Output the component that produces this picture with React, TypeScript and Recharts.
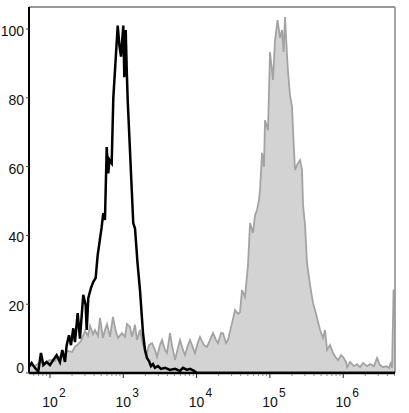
import React from "react";
import { ComposedChart, Area, Line, XAxis, YAxis, ReferenceLine } from "recharts";

// x values are log10(fluorescence intensity)
const blackX = [1.714, 1.75, 1.795, 1.84, 1.877, 1.909, 1.955, 2.0, 2.045, 2.091, 2.136, 2.168, 2.205, 2.228, 2.259, 2.286, 2.318, 2.341, 2.378, 2.409, 2.454, 2.487, 2.501, 2.523, 2.559, 2.591, 2.623, 2.651, 2.705, 2.727, 2.75, 2.774, 2.795, 2.812, 2.842, 2.864, 2.924, 2.948, 2.969, 3.0, 3.014, 3.033, 3.046, 3.06, 3.136, 3.16, 3.194, 3.228, 3.269, 3.296, 3.323, 3.351, 3.378, 3.405, 3.432, 3.473, 3.514, 3.569, 3.637, 3.705, 3.774, 3.814, 3.869, 3.91, 3.965, 4.005, 6.706];
const blackY = [1.8, 2.9, 1.5, 0.4, 5.8, 2.3, 3.2, 2.3, 3.8, 5.2, 3.2, 6.7, 3.2, 8.1, 11, 8.1, 13, 9, 17.4, 10, 22.7, 19.8, 12.5, 21.8, 24.7, 26.5, 27.6, 34.3, 42.4, 46.5, 44.5, 65.7, 58, 62, 61, 80, 101, 95, 92, 101, 86, 99.7, 89, 79.4, 43.6, 42, 32, 24, 11.6, 6.7, 4.4, 3.5, 2, 2.6, 1.5, 2, 1.2, 1.5, 0.9, 1.2, 0.6, 1.5, 0.9, 1.2, 0.6, 0, 0];

const grayX = [1.714, 1.795, 1.864, 1.932, 2.0, 2.068, 2.109, 2.177, 2.246, 2.3, 2.341, 2.382, 2.423, 2.477, 2.518, 2.546, 2.587, 2.614, 2.655, 2.682, 2.723, 2.75, 2.778, 2.819, 2.859, 2.9, 2.928, 2.982, 3.023, 3.05, 3.091, 3.119, 3.16, 3.187, 3.228, 3.269, 3.323, 3.351, 3.392, 3.432, 3.46, 3.501, 3.528, 3.569, 3.596, 3.637, 3.664, 3.705, 3.746, 3.774, 3.814, 3.842, 3.883, 3.91, 3.951, 3.978, 4.019, 4.046, 4.101, 4.142, 4.183, 4.224, 4.265, 4.292, 4.333, 4.36, 4.401, 4.428, 4.483, 4.524, 4.565, 4.592, 4.619, 4.66, 4.701, 4.729, 4.769, 4.797, 4.824, 4.851, 4.865, 4.892, 4.919, 4.933, 4.974, 5.001, 5.042, 5.07, 5.104, 5.138, 5.165, 5.186, 5.206, 5.233, 5.247, 5.274, 5.302, 5.315, 5.342, 5.37, 5.411, 5.438, 5.452, 5.479, 5.506, 5.547, 5.588, 5.615, 5.656, 5.684, 5.724, 5.752, 5.779, 5.82, 5.861, 5.902, 5.929, 5.97, 5.997, 6.038, 6.052, 6.093, 6.147, 6.188, 6.229, 6.27, 6.325, 6.366, 6.42, 6.461, 6.502, 6.543, 6.584, 6.625, 6.652, 6.666, 6.686, 6.706];
const grayY = [2.3, 2.0, 3.2, 2.9, 3.8, 3.5, 4.7, 4.9, 6.4, 6.1, 7.6, 8.4, 9.3, 12.2, 10.8, 13.7, 11.3, 12.5, 10.8, 16, 10.2, 12.5, 14.2, 10.5, 16.3, 11.9, 10.2, 11.6, 10.5, 14.2, 13.4, 10.5, 14, 9.6, 12.5, 8.1, 5.8, 8.1, 8.7, 6.7, 4.7, 8.1, 9.6, 6.7, 5.8, 11.6, 8.1, 3.8, 7.3, 9.6, 6.7, 5.2, 8.1, 9.6, 7.3, 5.8, 9, 10.5, 8.1, 7.6, 9.6, 11.6, 9.6, 8.7, 11.6, 11.6, 8.7, 9.6, 14.5, 18.3, 17.2, 17.7, 24.1, 22.1, 31.4, 43.6, 40.7, 45.9, 47.4, 50.3, 53.2, 64, 59.9, 73.5, 70.6, 93.3, 85.2, 96.8, 102.6, 97.4, 99.7, 93.3, 103.5, 92.4, 87.5, 80.8, 77.3, 70.6, 59, 60.5, 61.9, 59, 48.8, 43, 32, 25.6, 20.3, 18.3, 14.8, 12.5, 10.2, 12.5, 6.7, 8.1, 5.8, 4.4, 3.8, 5.2, 4.7, 3.2, 1.7, 3.2, 2, 2.6, 1.7, 2.9, 2, 2.6, 2, 4.4, 2.3, 1.7, 2, 1.5, 3.2, 1.5, 24, 24];

const majorDecades = [2, 3, 4, 5, 6];
const yTicks = [0, 20, 40, 60, 80, 100];

const X_MIN = 1.714;
const X_MAX = 6.706;
const Y_MAX = 106.4;

const blackData = blackX.map((x, i) => ({ x, v: blackY[i] }));
const grayData = grayX.map((x, i) => ({ x, v: grayY[i] }));

const minorTicks: number[] = [];
for (let n = 1; n <= 6; n++) {
  for (let k = 2; k <= 9; k++) {
    const t = n + Math.log10(k);
    if (t > X_MIN && t < X_MAX) minorTicks.push(t);
  }
}
const xTicks = [...majorDecades, ...minorTicks].sort((a, b) => a - b);

const FONT = "'Liberation Sans', Arial, sans-serif";

const XTick = (props: any) => {
  const { x, y, payload } = props;
  const v = payload.value;
  const major = majorDecades.includes(v);
  if (!major) {
    return <line x1={x} x2={x} y1={y + 1} y2={y + 3} stroke="#888" strokeWidth={1} />;
  }
  return (
    <g>
      <line x1={x} x2={x} y1={y + 1} y2={y + 5} stroke="#222" strokeWidth={1} />
      <text x={x} y={y + 34} textAnchor="middle" fontFamily={FONT} fontSize={14} fill="#111">
        10
      </text>
      <text x={x + 9} y={y + 24} textAnchor="start" fontFamily={FONT} fontSize={12} fill="#111">
        {v}
      </text>
    </g>
  );
};

const YTick = (props: any) => {
  const { x, y, payload } = props;
  const v = payload.value;
  const dy = v === 0 ? -5 : 2;
  return (
    <g>
      <line x1={x - 3} x2={x} y1={y} y2={y} stroke="#444" strokeWidth={1} />
      <text x={x - 5} y={y + dy} dy={5} textAnchor="end" fontFamily={FONT} fontSize={14} fill="#111">
        {v}
      </text>
    </g>
  );
};

export default function App() {
  return (
    <div style={{ position: "absolute", left: 0, top: 0, width: 409, height: 413, background: "#fff" }}>
      <ComposedChart width={409} height={413} margin={{ top: 7, right: 14, bottom: 0, left: 0 }}>
        <XAxis
          dataKey="x"
          type="number"
          domain={[X_MIN, X_MAX]}
          ticks={xTicks}
          interval={0}
          height={40}
          tickSize={0}
          tickMargin={0}
          tickLine={false}
          axisLine={{ stroke: "#000", strokeWidth: 2.5 }}
          tick={<XTick />}
          allowDataOverflow
        />
        <YAxis
          type="number"
          domain={[0, Y_MAX]}
          ticks={yTicks}
          interval={0}
          width={29}
          tickSize={0}
          tickMargin={0}
          tickLine={false}
          axisLine={{ stroke: "#000", strokeWidth: 2 }}
          tick={<YTick />}
          allowDataOverflow
        />
        <ReferenceLine y={Y_MAX} stroke="#333" strokeWidth={1} />
        <ReferenceLine x={X_MAX} stroke="#888" strokeWidth={1.5} />
        <Area
          data={grayData}
          dataKey="v"
          type="linear"
          stroke="#a3a3a3"
          strokeWidth={1.8}
          fill="#d3d3d3"
          fillOpacity={1}
          dot={false}
          activeDot={false}
          isAnimationActive={false}
        />
        <Line
          data={blackData}
          dataKey="v"
          type="linear"
          stroke="#000"
          strokeWidth={2.5}
          dot={false}
          activeDot={false}
          isAnimationActive={false}
        />
      </ComposedChart>
    </div>
  );
}
